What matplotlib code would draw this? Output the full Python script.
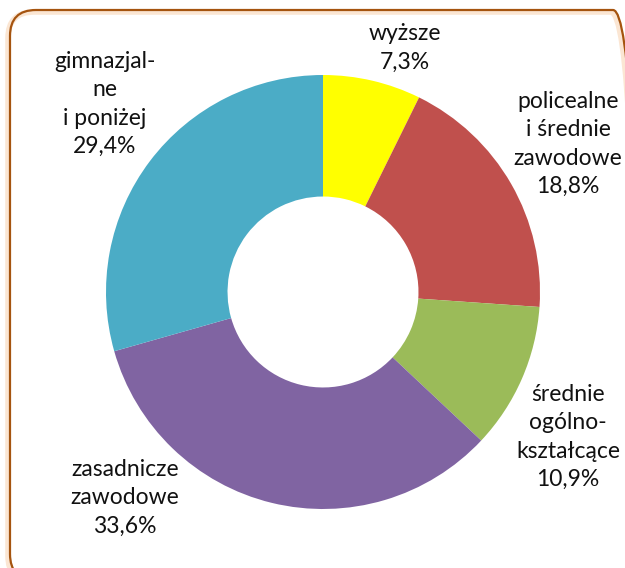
import matplotlib.pyplot as plt
from matplotlib.patches import FancyBboxPatch

# --- datos ---
categorias = ['wyższe', 'policealne\ni średnie\nzawodowe', 'średnie\nogólno-\nkształcące',
              'zasadnicze\nzawodowe', 'gimnazjal-\nne\ni poniżej']
porcentajes = [7.3, 18.8, 10.9, 33.6, 29.4]
colores = ['#FFFF00', '#C0504D', '#9BBB59', '#8064A2', '#4BACC6']

# posiciones de las etiquetas (pixeles de la imagen, y hacia abajo)
pos_etiquetas = [(405, 48), (568, 144), (568, 437), (125, 498), (105, 104)]

W, H = 625, 568
fig = plt.figure(figsize=(W / 100, H / 100), dpi=100)

# fondo con el marco redondeado (coordenadas en pixeles, y hacia arriba)
ax_bg = fig.add_axes([0, 0, 1, 1])
ax_bg.set_xlim(0, W)
ax_bg.set_ylim(0, H)
ax_bg.axis('off')
sombra = FancyBboxPatch((8, -14), 629, 570, boxstyle='round,pad=0,rounding_size=26',
                        facecolor='none', edgecolor='#FBE6D3', linewidth=4, clip_on=False)
ax_bg.add_patch(sombra)
marco = FancyBboxPatch((10, -12), 629, 570, boxstyle='round,pad=0,rounding_size=26',
                       facecolor='none', edgecolor='#A5540F', linewidth=1.6, clip_on=False)
ax_bg.add_patch(marco)

# --- gráfico de anillo ---
cx, cy, R = 323, 292, 217
ax = fig.add_axes([(cx - R) / W, (H - cy - R) / H, 2 * R / W, 2 * R / H])
ax.pie(porcentajes, colors=colores, startangle=90, counterclock=False,
       radius=1, wedgeprops=dict(width=0.56, edgecolor='none'))
ax.set_xlim(-1, 1)
ax.set_ylim(-1, 1)
ax.set_aspect('equal')

for cat, val, (x, y) in zip(categorias, porcentajes, pos_etiquetas):
    texto = cat + '\n' + f'{val:.1f}'.replace('.', ',') + '%'
    ax_bg.text(x, H - y, texto, ha='center', va='center', fontsize=16.5,
               family='Lato', linespacing=1.43, color='#111111')

plt.savefig('out.png', dpi=100)
